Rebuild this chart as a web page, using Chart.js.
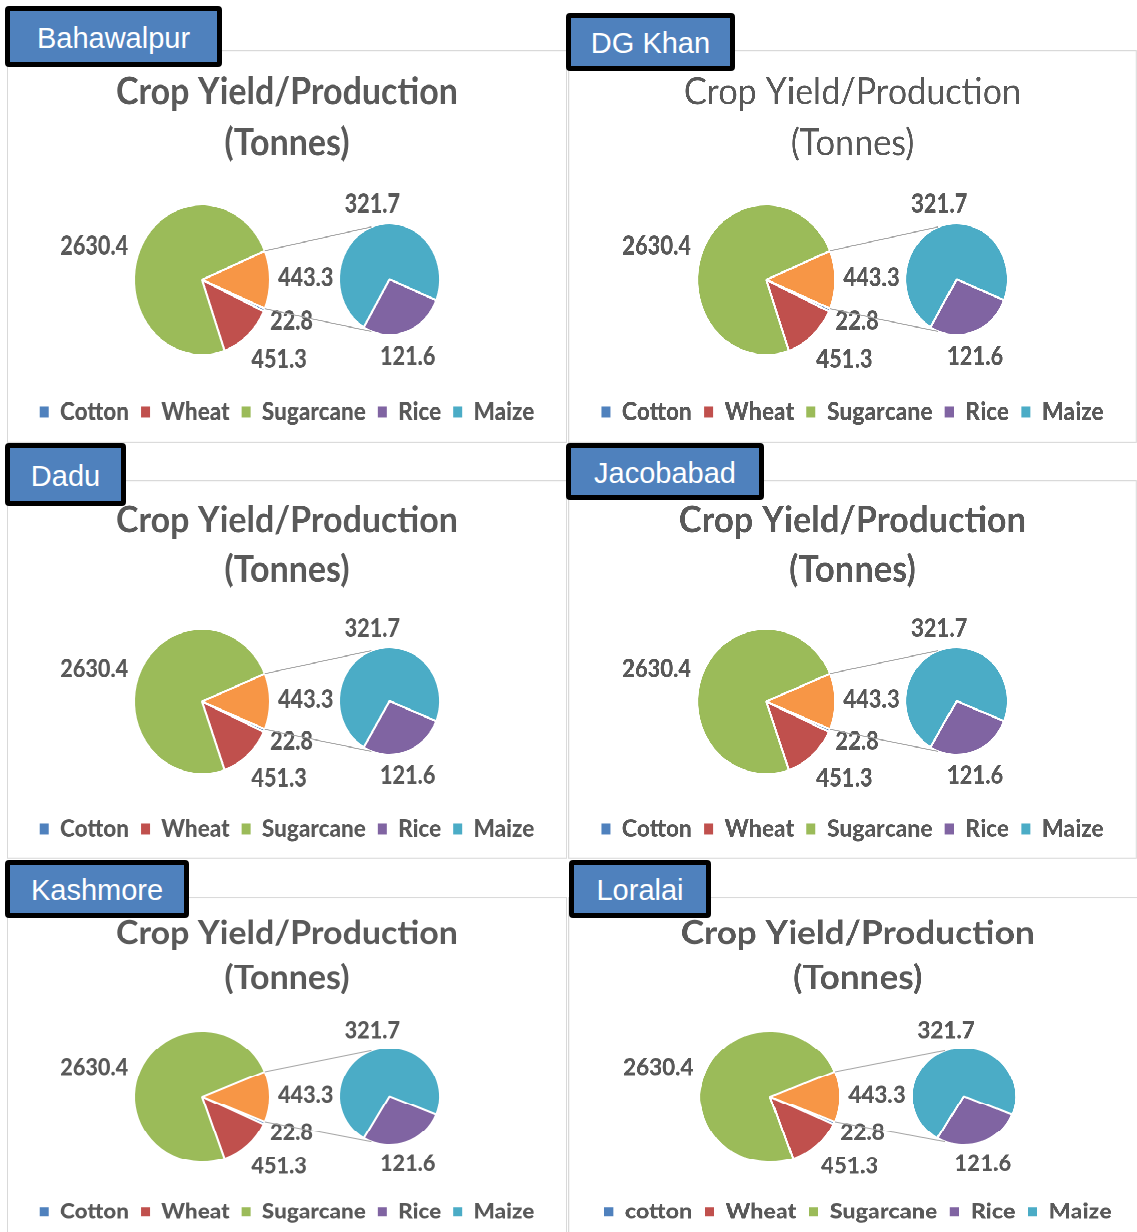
<!DOCTYPE html>
<html lang="en">
<head>
<meta charset="UTF-8">
<title>Crop Yield/Production (Tonnes)</title>
<script src="https://cdn.jsdelivr.net/npm/chart.js@4"></script>
<style>
    body { margin: 0; background: #fff; }
    #stage { position: relative; width: 1137px; height: 1232px; overflow: hidden; }
    .panel { position: absolute; width: 560px; height: 354px; transform-origin: 0 0; }
    .panel canvas { position: absolute; left: 0; top: 0; }
    .frame { position: absolute; left: 0; top: 0; right: 0; bottom: 0; border: 1px solid #d9d9d9; box-sizing: border-box; }
    .tag {
        position: absolute; box-sizing: border-box; z-index: 5;
        border: 5px solid #000; border-radius: 4px; background: #4f81bd;
        color: #fff; font: 29px 'Liberation Sans', Arial, sans-serif;
        display: flex; align-items: center; justify-content: center; padding-top: 3px;
    }
</style>
</head>
<body>
<div id="stage"></div>
<script>
// every district panel shows the same figures
const districts = ['Bahawalpur', 'DG Khan', 'Dadu', 'Jacobabad', 'Kashmore', 'Loralai'];
const crops = ['Cotton', 'Wheat', 'Sugarcane', 'Rice', 'Maize'];
const cropsLoralai = ['cotton', 'Wheat', 'Sugarcane', 'Rice', 'Maize'];
const tonnes = [22.8, 451.3, 2630.4, 121.6, 321.7];
const firstPie = [0, 1, 2];   // Cotton, Wheat, Sugarcane
const secondPie = [3, 4];     // Rice, Maize (split off into the small pie)
const titleLines = ['Crop Yield/Production', '(Tonnes)'];

const cropColors = ['#4f81bd', '#c0504d', '#9bbb59', '#8064a2', '#4bacc6'];
const otherColor = '#f79646';
const textColor = '#595959';

// panel placement on the page
const layout = [
    { left: 7,   top: 50,  sx: 1,     sy: 1.11,  weight: 'bold',   tag: [5, 6, 217, 61] },
    { left: 568, top: 50,  sx: 1.016, sy: 1.11,  weight: 'normal', tag: [566, 13, 169, 58] },
    { left: 7,   top: 480, sx: 1,     sy: 1.07,  weight: 'bold',   tag: [5, 443, 121, 63] },
    { left: 568, top: 480, sx: 1.016, sy: 1.07,  weight: 'bold',   tag: [566, 443, 198, 57] },
    { left: 7,   top: 897, sx: 1,     sy: 0.965, weight: 'bold',   tag: [5, 860, 184, 58] },
    { left: 568, top: 897, sx: 1.035, sy: 0.965, weight: 'bold',   tag: [569, 860, 142, 58] }
];

// size fonts so the text widths match the picture
const mctx = document.createElement('canvas').getContext('2d');
function fit(text, weight, width) {
    mctx.font = weight + ' 100px Lato';
    return 100 * width / mctx.measureText(text).width;
}
const heavy = '900';
const squeeze = 0.9; // data labels are a narrow face in the picture
const titleSize = { bold: fit(titleLines[0], 'bold', 342), normal: fit(titleLines[0], 'normal', 332) };
const labelSize = fit('2630.4', heavy, 68 / squeeze);
const legendSize = fit('Sugarcane', heavy, 104);

// puts the pie where we want it and writes the value labels outside the slices
const pieSpot = {
    id: 'pieSpot',
    afterLayout(chart, args, o) {
        chart.chartArea = { left: o.x - o.r, right: o.x + o.r, top: o.y - o.r, bottom: o.y + o.r, width: 2 * o.r, height: 2 * o.r };
    },
    afterDatasetsDraw(chart, args, o) {
        const ctx = chart.ctx;
        const meta = chart.getDatasetMeta(0);
        const data = chart.data.datasets[0].data;
        ctx.save();
        ctx.font = heavy + ' ' + labelSize + 'px Lato';
        ctx.fillStyle = textColor;
        ctx.textAlign = 'center';
        ctx.textBaseline = 'middle';
        meta.data.forEach((arc, i) => {
            const text = data[i].toFixed(1);
            const a = (arc.startAngle + arc.endAngle) / 2;
            const w = ctx.measureText(text).width * squeeze, h = labelSize * 0.9;
            const half = Math.abs(Math.cos(a)) * w / 2 + Math.abs(Math.sin(a)) * h / 2;
            const d = arc.outerRadius + o.pad + half;
            const n = (o.nudge && o.nudge[i]) || [0, 0];
            ctx.save();
            ctx.translate(arc.x + Math.cos(a) * d + n[0], arc.y + Math.sin(a) * d + n[1]);
            ctx.scale(squeeze, 1);
            ctx.fillText(text, 0, 0);
            ctx.restore();
        });
        ctx.restore();
    }
};

// grey lines from the "other" slice to the small pie
function connector(mainChart) {
    return {
        id: 'connector',
        afterDatasetsDraw(chart) {
            const big = mainChart.getDatasetMeta(0).data[0];
            const small = chart.getDatasetMeta(0).data[0];
            const R = big.outerRadius, r = small.outerRadius;
            const ends = [[big.startAngle, -111], [big.endAngle, 111]];
            const ctx = chart.ctx;
            ctx.save();
            ctx.strokeStyle = '#a6a6a6';
            ctx.lineWidth = 1;
            ends.forEach(([a, deg]) => {
                const b = deg * Math.PI / 180;
                ctx.beginPath();
                ctx.moveTo(big.x + R * Math.cos(a), big.y + R * Math.sin(a));
                ctx.lineTo(small.x + r * Math.cos(b), small.y + r * Math.sin(b));
                ctx.stroke();
            });
            ctx.restore();
        }
    };
}

const otherValue = secondPie.reduce((s, i) => s + tonnes[i], 0);
const mainValues = [otherValue].concat(firstPie.map(i => tonnes[i]));
const mainColors = [otherColor].concat(firstPie.map(i => cropColors[i]));
const mainTotal = mainValues.reduce((s, v) => s + v, 0);
const mainRotation = 90 - (otherValue / mainTotal) * 180; // centre "other" at 3 o'clock

const stage = document.getElementById('stage');

districts.forEach((name, k) => {
    const L = layout[k];
    const names = name === 'Loralai' ? cropsLoralai : crops;

    const panel = document.createElement('div');
    panel.className = 'panel';
    panel.style.left = L.left + 'px';
    panel.style.top = L.top + 'px';
    panel.style.transform = 'scale(' + L.sx + ',' + L.sy + ')';
    panel.innerHTML = '<div class="frame"></div><canvas width="560" height="354"></canvas><canvas width="560" height="354"></canvas>';
    stage.appendChild(panel);

    const tag = document.createElement('div');
    tag.className = 'tag';
    tag.textContent = name;
    tag.style.left = L.tag[0] + 'px';
    tag.style.top = L.tag[1] + 'px';
    tag.style.width = L.tag[2] + 'px';
    tag.style.height = L.tag[3] + 'px';
    stage.appendChild(tag);

    const [canvasA, canvasB] = panel.querySelectorAll('canvas');

    const mainChart = new Chart(canvasA, {
        type: 'pie',
        data: {
            labels: ['Other'].concat(firstPie.map(i => names[i])),
            datasets: [{
                data: mainValues,
                backgroundColor: mainColors,
                borderColor: '#ffffff',
                borderWidth: 2,
                radius: 68,
                rotation: mainRotation
            }]
        },
        options: {
            responsive: false,
            animation: false,
            events: [],
            devicePixelRatio: 2,
            layout: { padding: { top: 0, bottom: 6.5, left: 0, right: 0 } },
            plugins: {
                title: {
                    display: true,
                    text: titleLines,
                    color: textColor,
                    font: { family: 'Lato', size: titleSize[L.weight], weight: L.weight, lineHeight: '46px' },
                    padding: { top: 15, bottom: 0 }
                },
                legend: {
                    position: 'bottom',
                    labels: {
                        boxWidth: 9,
                        boxHeight: 10,
                        padding: 12,
                        color: textColor,
                        font: { family: 'Lato', size: legendSize, weight: heavy },
                        generateLabels: () => names.map((t, i) => ({
                            text: t, fillStyle: cropColors[i], strokeStyle: cropColors[i],
                            lineWidth: 0, fontColor: textColor, hidden: false, index: i
                        }))
                    }
                },
                tooltip: { enabled: false },
                pieSpot: { x: 195, y: 207, r: 100, pad: 8, nudge: [[0, -2], [-2, -3], [8, -4], [-6, 15]] }
            }
        },
        plugins: [pieSpot]
    });

    new Chart(canvasB, {
        type: 'pie',
        data: {
            labels: secondPie.map(i => names[i]),
            datasets: [{
                data: secondPie.map(i => tonnes[i]),
                backgroundColor: secondPie.map(i => cropColors[i]),
                borderColor: '#ffffff',
                borderWidth: 2,
                radius: 50.5,
                rotation: 112
            }]
        },
        options: {
            responsive: false,
            animation: false,
            events: [],
            devicePixelRatio: 2,
            plugins: {
                title: { display: false },
                legend: { display: false },
                tooltip: { enabled: false },
                pieSpot: { x: 382.5, y: 206.5, r: 80, pad: 3, nudge: [[-5, 1], [6, 1]] }
            }
        },
        plugins: [pieSpot, connector(mainChart)]
    });
});
</script>
</body>
</html>
